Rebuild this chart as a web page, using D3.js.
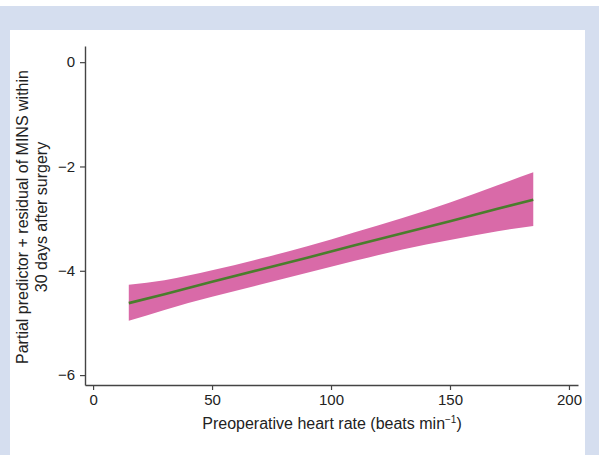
<!DOCTYPE html>
<html>
<head>
<meta charset="utf-8">
<script src="https://cdn.jsdelivr.net/npm/d3@7"></script>
<style>
  body { margin: 0; background: #ffffff; }
  text { font-family: "Liberation Sans", Arial, sans-serif; fill: #222; }
</style>
</head>
<body>
<script>
// heart rate (bpm) with fitted partial predictor and 95% band
var heartRate = [15, 30, 50, 70, 90, 110, 130, 150, 170, 185];
var fitted    = [-4.62, -4.45, -4.21, -3.98, -3.75, -3.51, -3.28, -3.05, -2.81, -2.64];
var upperCI   = [-4.27, -4.18, -3.99, -3.77, -3.53, -3.26, -2.99, -2.69, -2.36, -2.11];
var lowerCI   = [-4.96, -4.75, -4.50, -4.27, -4.04, -3.81, -3.59, -3.41, -3.24, -3.14];
var xTicks = [0, 50, 100, 150, 200];
var yTicks = [0, -2, -4, -6];

var width = 599, height = 455;

var svg = d3.select("body")
	.append("svg")
		.attr("width", width)
		.attr("height", height);

// frame: blue border, white panel
svg.append("rect")
		.attr("x", 0)
		.attr("y", 6)
		.attr("width", width)
		.attr("height", height - 6)
		.attr("fill", "#d5deef");

svg.append("rect")
		.attr("x", 10)
		.attr("y", 30)
		.attr("width", 575)
		.attr("height", height - 30)
		.attr("fill", "white");

var x = d3.scaleLinear().domain([-3.4, 203.8]).range([85, 578]);
var y = d3.scaleLinear().domain([-6.19, 0.31]).range([385, 46]);

var rows = heartRate.map(function(h, i) {
	return { h: h, fit: fitted[i], lo: lowerCI[i], hi: upperCI[i] };
});

svg.append("path")
		.datum(rows)
		.attr("fill", "#d96aa8")
		.attr("d", d3.area()
			.x(function(d) { return x(d.h); })
			.y0(function(d) { return y(d.lo); })
			.y1(function(d) { return y(d.hi); })
			.curve(d3.curveMonotoneX));

svg.append("path")
		.datum(rows)
		.attr("fill", "none")
		.attr("stroke", "#4a7d2c")
		.attr("stroke-width", 2.6)
		.attr("d", d3.line()
			.x(function(d) { return x(d.h); })
			.y(function(d) { return y(d.fit); }));

var xAxis = svg.append("g")
		.attr("transform", "translate(0,385)")
		.call(d3.axisBottom(x).tickValues(xTicks).tickSize(5).tickPadding(4).tickSizeOuter(0));

var yAxis = svg.append("g")
		.attr("transform", "translate(85,0)")
		.call(d3.axisLeft(y).tickValues(yTicks).tickSize(5).tickPadding(5).tickSizeOuter(0)
			.tickFormat(function(d) { return d < 0 ? "\u2212" + Math.abs(d) : d; }));

[xAxis, yAxis].forEach(function(g) {
	g.select(".domain").attr("stroke", "#444").attr("stroke-width", 1.4);
	g.selectAll(".tick line").attr("stroke", "#444").attr("stroke-width", 1.2);
	g.selectAll(".tick text")
		.attr("font-family", "Liberation Sans, Arial, sans-serif")
		.attr("font-size", 15)
		.attr("fill", "#222");
});

var xTitle = svg.append("text")
		.attr("x", 332)
		.attr("y", 429)
		.attr("text-anchor", "middle")
		.attr("font-size", 16);
xTitle.append("tspan").text("Preoperative heart rate (beats min");
xTitle.append("tspan").attr("font-size", 10).attr("dy", -6).text("\u22121");
xTitle.append("tspan").attr("dy", 6).text(")");

var yTitle = svg.append("g")
		.attr("transform", "translate(0,217) rotate(-90)");
yTitle.append("text")
		.attr("x", 0)
		.attr("y", 28)
		.attr("text-anchor", "middle")
		.attr("font-size", 16)
		.text("Partial predictor + residual of MINS within");
yTitle.append("text")
		.attr("x", 0)
		.attr("y", 47)
		.attr("text-anchor", "middle")
		.attr("font-size", 16)
		.text("30 days after surgery");
</script>
</body>
</html>
